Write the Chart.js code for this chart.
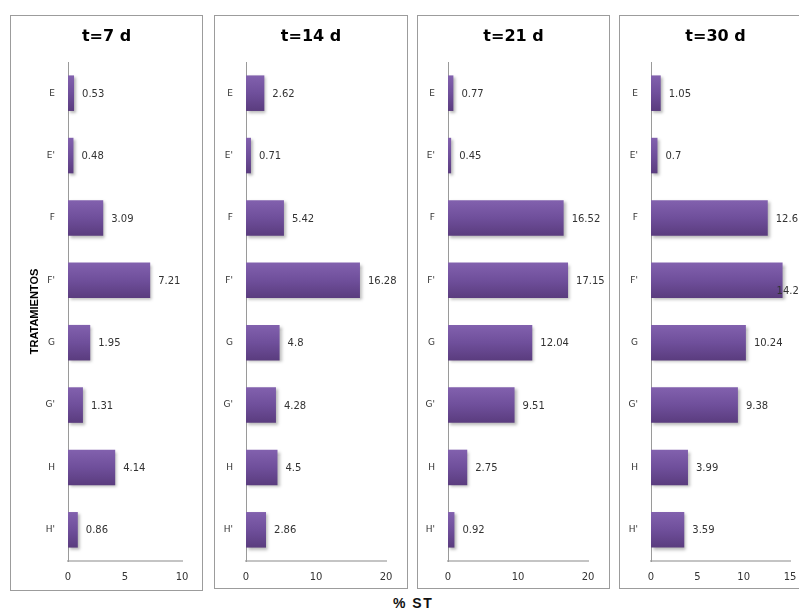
<!DOCTYPE html>
<html>
<head>
<meta charset="utf-8">
<script src="https://cdn.jsdelivr.net/npm/chart.js@4/dist/chart.umd.min.js"></script>
<style>
  html, body { margin: 0; padding: 0; background: #fff; width: 799px; height: 609px; overflow: hidden; }
  .panel { position: absolute; border: 1px solid #9c9c9c; box-sizing: border-box; background: #fff; }
  .panel canvas { position: absolute; left: 0; top: 0; }
  #xtitle { position: absolute; left: 393px; top: 595px; font: bold 14px "Liberation Sans", Arial, sans-serif;
            letter-spacing: 1.5px; color: #111; white-space: nowrap; }
</style>
</head>
<body>
<div id="xtitle"></div>
<script>
// Treatments (vertical axis) and % ST per sampling time
const categories = ["E", "E'", "F", "F'", "G", "G'", "H", "H'"];
const panelTitles = ["t=7 d", "t=14 d", "t=21 d", "t=30 d"];
const st7d  = [0.53, 0.48, 3.09, 7.21, 1.95, 1.31, 4.14, 0.86];
const st14d = [2.62, 0.71, 5.42, 16.28, 4.8, 4.28, 4.5, 2.86];
const st21d = [0.77, 0.45, 16.52, 17.15, 12.04, 9.51, 2.75, 0.92];
const st30d = [1.05, 0.7, 12.6, 14.2, 10.24, 9.38, 3.99, 3.59];
const axisMax  = [10, 20, 20, 15];
const axisStep = [5, 10, 10, 5];
const yAxisTitle = "TRATAMIENTOS";
const xAxisTitle = "% ST";

const seriesList = [st7d, st14d, st21d, st30d];

// Panel frames and plot-area edges in page pixels
const frames = [
  { left: 10,  top: 15, width: 193, height: 576, plotLeft: 68,  plotRight: 182 },
  { left: 214, top: 15, width: 194, height: 574, plotLeft: 246, plotRight: 386 },
  { left: 417, top: 15, width: 193, height: 574, plotLeft: 448, plotRight: 588 },
  { left: 619, top: 15, width: 193, height: 574, plotLeft: 651, plotRight: 790 }
];
const plotTop = 62, plotBottom = 561;
const barFraction = 0.57;

document.getElementById('xtitle').textContent = xAxisTitle;

// Vertical purple gradient per bar
function barFill(ctx) {
  const chart = ctx.chart;
  const yScale = chart.scales && chart.scales.y;
  const area = chart.chartArea;
  if (!yScale || !area || ctx.dataIndex === undefined) return '#6c4b94';
  const cy = yScale.getPixelForValue(ctx.dataIndex);
  if (!isFinite(cy)) return '#6c4b94';
  const half = (area.bottom - area.top) / categories.length * barFraction / 2;
  const g = chart.ctx.createLinearGradient(0, cy - half, 0, cy + half);
  g.addColorStop(0, '#8261ae');
  g.addColorStop(0.5, '#6f4f9b');
  g.addColorStop(1, '#5a3c7e');
  return g;
}

// Soft shadow behind bars, then value labels at bar ends
const barDecor = {
  id: 'barDecor',
  beforeDatasetsDraw(chart) {
    const c = chart.ctx;
    c.save();
    c.shadowColor = 'rgba(0,0,0,0.28)';
    c.shadowBlur = 3;
    c.shadowOffsetX = 2;
    c.shadowOffsetY = 2;
  },
  afterDatasetsDraw(chart) {
    const c = chart.ctx;
    c.restore();
    const meta = chart.getDatasetMeta(0);
    const values = chart.data.datasets[0].data;
    c.save();
    c.font = '10px "DejaVu Sans", Verdana, sans-serif';
    c.fillStyle = '#333';
    c.textAlign = 'left';
    c.textBaseline = 'middle';
    const limit = chart.width - 2;
    meta.data.forEach((bar, i) => {
      const txt = String(values[i]);
      const w = c.measureText(txt).width;
      let x = bar.x + 8;
      let y = bar.y + 1;
      // a label that would run out of the panel is tucked over the bar end
      if (x + w > limit) { x = bar.x - 6; y += 10; }
      c.fillText(txt, x, y);
    });
    c.restore();
  }
};

// Panel heading
const panelHeading = {
  id: 'panelHeading',
  afterDraw(chart, args, opts) {
    const c = chart.ctx;
    c.save();
    c.font = 'bold 16px "DejaVu Sans", Verdana, sans-serif';
    c.fillStyle = '#000';
    c.textAlign = 'center';
    c.textBaseline = 'middle';
    c.fillText(opts.text, chart.width / 2, 21);
    c.restore();
  }
};

frames.forEach((f, k) => {
  const div = document.createElement('div');
  div.className = 'panel';
  div.style.left = f.left + 'px';
  div.style.top = f.top + 'px';
  div.style.width = f.width + 'px';
  div.style.height = f.height + 'px';
  const cv = document.createElement('canvas');
  const cw = f.width - 2, ch = f.height - 2;
  cv.width = cw; cv.height = ch;
  cv.style.width = cw + 'px'; cv.style.height = ch + 'px';
  div.appendChild(cv);
  document.body.appendChild(div);

  const ox = f.left + 1, oy = f.top + 1;
  const yWidth = f.plotLeft - ox;
  const xHeight = ch - (plotBottom - oy);

  new Chart(cv, {
    type: 'bar',
    data: {
      labels: categories,
      datasets: [{
        data: seriesList[k],
        backgroundColor: barFill,
        borderWidth: 0,
        barPercentage: barFraction,
        categoryPercentage: 1
      }]
    },
    plugins: [barDecor, panelHeading],
    options: {
      indexAxis: 'y',
      responsive: false,
      animation: false,
      events: [],
      layout: { padding: { left: 0, top: plotTop - oy, right: cw - (f.plotRight - ox), bottom: 0 } },
      plugins: {
        legend: { display: false },
        tooltip: { enabled: false },
        title: { display: false },
        panelHeading: { text: panelTitles[k] }
      },
      scales: {
        x: {
          type: 'linear',
          min: 0,
          max: axisMax[k],
          ticks: { stepSize: axisStep[k], padding: 10, color: '#333',
                   font: { family: '"DejaVu Sans", Verdana, sans-serif', size: 10 } },
          grid: { display: false, drawTicks: false },
          border: { display: true, color: '#c4c4c4', width: 2 },
          afterFit(s) { s.height = xHeight; }
        },
        y: {
          type: 'category',
          ticks: { padding: 13, color: '#333',
                   font: { family: '"DejaVu Sans", Verdana, sans-serif', size: 9 } },
          grid: { display: false, drawTicks: false },
          border: { display: true, color: '#9a9a9a', width: 1 },
          title: {
            display: k === 0,
            text: yAxisTitle,
            color: '#000',
            font: { family: '"Liberation Sans Narrow", "Liberation Sans", Arial, sans-serif', size: 11, weight: 'bold' },
            padding: { top: 17, bottom: 0 }
          },
          afterFit(s) { s.width = yWidth; }
        }
      }
    }
  });
});
</script>
</body>
</html>
